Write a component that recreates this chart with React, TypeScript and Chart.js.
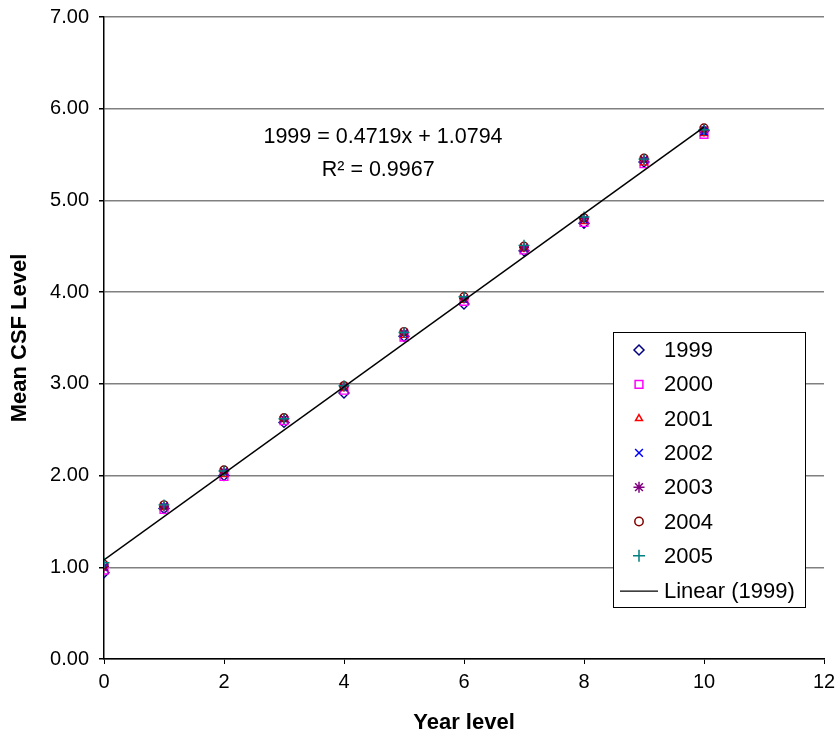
import React, { useEffect, useRef } from "react";
import { Chart, registerables } from "chart.js";
import { drawPoint } from "chart.js/helpers";

Chart.register(...registerables);

const yearLevels = [0, 1, 2, 3, 4, 5, 6, 7, 8, 9, 10];
const seriesNames = ["1999", "2000", "2001", "2002", "2003", "2004", "2005"];
const s1999 = [0.94, 1.64, 2.0, 2.58, 2.9, 3.52, 3.87, 4.45, 4.75, 5.42, 5.76];
const s2000 = [0.97, 1.63, 1.99, 2.6, 2.93, 3.51, 3.9, 4.46, 4.76, 5.4, 5.72];
const s2001 = [0.99, 1.65, 2.01, 2.61, 2.95, 3.53, 3.91, 4.47, 4.77, 5.41, 5.73];
const s2002 = [1.0, 1.67, 2.04, 2.62, 2.96, 3.55, 3.92, 4.48, 4.79, 5.44, 5.75];
const s2003 = [1.01, 1.66, 2.05, 2.62, 2.97, 3.56, 3.93, 4.49, 4.8, 5.45, 5.77];
const s2004 = [1.03, 1.68, 2.06, 2.63, 2.98, 3.57, 3.95, 4.5, 4.81, 5.46, 5.79];
const s2005 = [1.05, 1.68, 2.05, 2.62, 2.98, 3.56, 3.95, 4.51, 4.82, 5.45, 5.77];
const seriesValues = [s1999, s2000, s2001, s2002, s2003, s2004, s2005];
const seriesColors = ["#000080", "#FF00FF", "#FF0000", "#0000FF", "#800080", "#800000", "#008080"];
const seriesStyles = ["rectRot", "rect", "triangle", "crossRot", "star", "circle", "cross"];
const seriesRadii = [5, 5.5, 4, 5, 5, 4, 5.5];
const legendRadii = [5, 5.5, 4, 5.5, 5.5, 4.2, 6];

const TREND_SLOPE = 0.4719;
const TREND_INTERCEPT = 1.0794;
const TREND_R2 = 0.9967;
const trendLabel = "Linear (1999)";

const FONT = "'Liberation Sans', Arial, sans-serif";
const TICK_FONT = "'Liberation Sans Narrow', 'Arial Narrow', 'Liberation Sans', Arial, sans-serif";

const legendPlugin = {
  id: "excelLegend",
  afterDraw(chart: any) {
    const ctx = chart.ctx;
    const ca = chart.chartArea;
    const bx = ca.right - 211;
    const by = ca.top + 315;
    const bw = 192;
    const bh = 275;
    ctx.save();
    ctx.fillStyle = "#ffffff";
    ctx.fillRect(bx, by, bw, bh);
    ctx.strokeStyle = "#000000";
    ctx.lineWidth = 1;
    ctx.strokeRect(bx + 0.5, by + 0.5, bw, bh);
    ctx.font = "22px " + FONT;
    ctx.textBaseline = "middle";
    ctx.textAlign = "left";
    const rowH = 34.3;
    for (let i = 0; i < seriesNames.length; i++) {
      const cy = by + 18 + i * rowH;
      ctx.strokeStyle = seriesColors[i];
      ctx.fillStyle = "rgba(0,0,0,0)";
      ctx.lineWidth = 1.5;
      drawPoint(ctx, { pointStyle: seriesStyles[i], radius: legendRadii[i], rotation: 0, borderWidth: 1.5 } as any, bx + 26, cy);
      ctx.fillStyle = "#000000";
      ctx.fillText(seriesNames[i], bx + 51, cy + 1);
    }
    const ly = by + 18 + 7 * rowH + 1;
    ctx.strokeStyle = "#000000";
    ctx.lineWidth = 1.3;
    ctx.beginPath();
    ctx.moveTo(bx + 7, ly);
    ctx.lineTo(bx + 45, ly);
    ctx.stroke();
    ctx.fillStyle = "#000000";
    ctx.fillText(trendLabel, bx + 51, ly + 1);
    ctx.restore();
  },
};

const equationPlugin = {
  id: "trendEquation",
  afterDatasetsDraw(chart: any) {
    const ctx = chart.ctx;
    const xs = chart.scales.x;
    const ys = chart.scales.y;
    ctx.save();
    ctx.font = "21.5px " + FONT;
    ctx.fillStyle = "#000000";
    ctx.textAlign = "center";
    ctx.textBaseline = "middle";
    ctx.fillText(
      "1999 = " + TREND_SLOPE.toFixed(4) + "x + " + TREND_INTERCEPT.toFixed(4),
      xs.getPixelForValue(4.65),
      ys.getPixelForValue(5.69)
    );
    ctx.fillText("R² = " + TREND_R2.toFixed(4), xs.getPixelForValue(4.57), ys.getPixelForValue(5.33));
    ctx.restore();
  },
};

export default function App() {
  const ref = useRef<HTMLCanvasElement>(null);
  useEffect(() => {
    if (!ref.current) return;
    Chart.defaults.font.family = FONT;
    Chart.defaults.color = "#000000";
    const datasets: any[] = seriesNames.map((name, i) => ({
      label: name,
      data: yearLevels.map((x, j) => ({ x, y: seriesValues[i][j] })),
      pointStyle: seriesStyles[i],
      pointRadius: seriesRadii[i],
      pointBorderColor: seriesColors[i],
      pointBackgroundColor: "rgba(0,0,0,0)",
      pointBorderWidth: 1.4,
      borderColor: seriesColors[i],
      showLine: false,
      order: seriesNames.length - i,
    }));
    const x0 = yearLevels[0];
    const x1 = yearLevels[yearLevels.length - 1];
    datasets.push({
      label: trendLabel,
      data: [
        { x: x0, y: TREND_SLOPE * x0 + TREND_INTERCEPT },
        { x: x1, y: TREND_SLOPE * x1 + TREND_INTERCEPT },
      ],
      showLine: true,
      borderColor: "#000000",
      borderWidth: 1.5,
      pointRadius: 0,
      order: 0,
    });
    const chart = new Chart(ref.current, {
      type: "scatter",
      data: { datasets },
      options: {
        animation: false,
        responsive: false,
        devicePixelRatio: 1,
        layout: { padding: { top: 17, right: 11, left: 0, bottom: 0 } },
        plugins: {
          legend: { display: false },
          tooltip: { enabled: false },
        },
        scales: {
          x: {
            type: "linear",
            min: 0,
            max: 12,
            ticks: { stepSize: 2, font: { size: 20, family: TICK_FONT }, padding: 6, color: "#000" },
            grid: { drawOnChartArea: false, drawTicks: true, tickLength: 5, color: "#000000" },
            border: { color: "#000000", width: 1.5 },
            title: { display: true, text: "Year level", font: { size: 22, weight: "bold" }, color: "#000", padding: { top: 4, bottom: 4 } },
            afterFit: (s: any) => {
              s.height = 81;
              s.paddingLeft = 0;
              s.paddingRight = 0;
            },
          },
          y: {
            type: "linear",
            min: 0,
            max: 7,
            ticks: {
              stepSize: 1,
              font: { size: 20, family: TICK_FONT },
              padding: 10,
              color: "#000",
              callback: (v: any) => Number(v).toFixed(2),
            },
            grid: { color: "#808080", lineWidth: 1.5, tickLength: 5, tickColor: "#000000" },
            border: { color: "#000000", width: 1.5 },
            title: { display: true, text: "Mean CSF Level", font: { size: 22, weight: "bold" }, color: "#000", padding: { top: 7, bottom: 0 } },
            afterFit: (s: any) => {
              s.width = 104;
              s.paddingTop = 0;
              s.paddingBottom = 0;
            },
          },
        },
      },
      plugins: [equationPlugin, legendPlugin],
    });
    return () => chart.destroy();
  }, []);
  return (
    <div style={{ position: "absolute", left: 0, top: 0, width: 835, height: 740, background: "#fff" }}>
      <canvas ref={ref} width={835} height={740} style={{ width: 835, height: 740 }} />
    </div>
  );
}
